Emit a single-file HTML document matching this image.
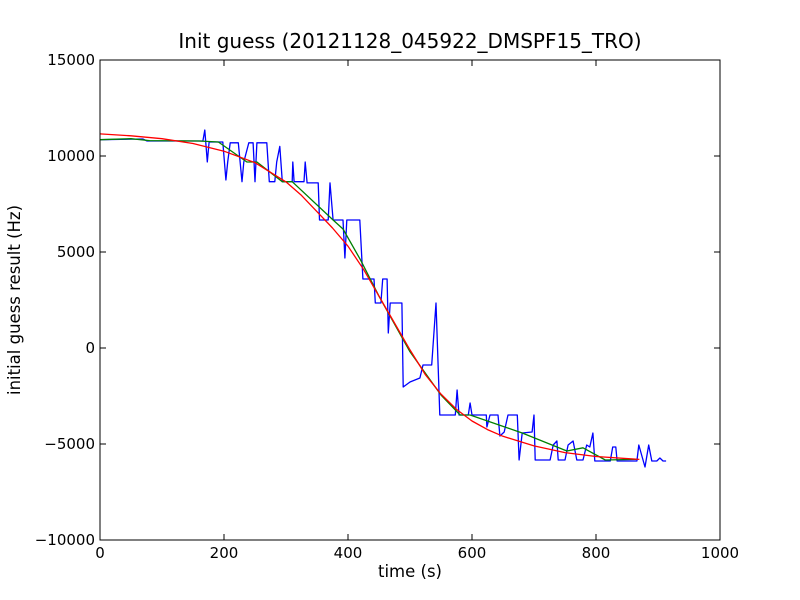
<!DOCTYPE html>
<html><head><meta charset="utf-8"><style>
html,body{margin:0;padding:0;background:#fff;}
svg{display:block;font-family:"DejaVu Sans","Liberation Sans",sans-serif;}
</style></head><body>
<svg id="chart" width="800" height="600">
<rect x="0" y="0" width="800" height="600" fill="#fff"/>
<text x="410" y="48" font-size="20" text-anchor="middle">Init guess (20121128_045922_DMSPF15_TRO)</text>
<text x="410" y="577" font-size="16.5" text-anchor="middle">time (s)</text>
<text x="20" y="300" font-size="16.5" text-anchor="middle" transform="rotate(-90 20 300)">initial guess result (Hz)</text>
<g id="grid"></g>
<g id="series"></g>
<rect x="100" y="60" width="620" height="480" fill="none" stroke="#000" stroke-width="1"/>
</svg>
<script>
const xTicks = [0, 200, 400, 600, 800, 1000];
const yTicks = [-10000, -5000, 0, 5000, 10000, 15000];
const blueT = [0,69,76,166,169,173,176,198,203,206,210,223,229,232,240,247,250,253,263,269,273,282,285,290,294,310,311,313,329,331,334,352,354,368,371,376,392,395,398,419,424,442,444,453,456,463,465,468,487,489,500,516,521,535,542,548,573,576,579,594,597,600,623,624,629,642,645,652,658,673,676,681,697,700,702,726,731,737,739,750,755,763,769,779,785,790,795,798,823,827,832,834,866,869,879,885,890,898,903,908,913];
const blueV = [10850,10885,10781,10781,11354,9690,10730,10730,8750,9690,10690,10690,8660,9690,10690,10690,8660,10690,10690,10690,8660,8660,9690,10500,8660,8660,9690,8660,8660,9690,8600,8600,6667,6667,8600,6667,6667,4688,6667,6667,3594,3594,2344,2344,3594,3594,781,2344,2344,-2031,-1771,-1563,-885,-885,2344,-3490,-3490,-2188,-3490,-3490,-2865,-3490,-3490,-4115,-3490,-3490,-4583,-4375,-3490,-3490,-5833,-4427,-4375,-3490,-5833,-5833,-5052,-4844,-5833,-5833,-5052,-4844,-5833,-5833,-5052,-5156,-4427,-5885,-5885,-5156,-5156,-5885,-5885,-5052,-6198,-5052,-5885,-5885,-5729,-5885,-5885];
const greenT = [0,50,80,160,191,237,253,294,310,376,392,420,450,500,550,581,597,681,753,779,815,865];
const greenV = [10850,10900,10800,10780,10730,9690,9690,8660,8660,6667,6200,4600,2700,-200,-2450,-3490,-3490,-4427,-5365,-5200,-5833,-5800];
const redT = [0,50,100,150,200,250,300,325,350,375,400,425,450,475,500,525,550,575,600,625,650,700,750,800,870];
const redV = [11150,11050,10900,10650,10250,9650,8650,7950,7100,6250,5300,4100,2700,1300,-100,-1400,-2400,-3200,-3800,-4250,-4600,-5100,-5450,-5650,-5800];

const X0=100,X1=720,Y0=540,Y1=60;
function xs(t){return X0+(t-0)/(1000-0)*(X1-X0);}
function ys(v){return Y0-(v+10000)/(25000)*(Y0-Y1);}
const NS='http://www.w3.org/2000/svg';
const g=document.getElementById('grid');
const s=document.getElementById('series');
function mk(tag,attrs,parent){const e=document.createElementNS(NS,tag);for(const k in attrs)e.setAttribute(k,attrs[k]);parent.appendChild(e);return e;}
xTicks.forEach(t=>{
  const x=xs(t);
  const a=mk('line',{x1:x,x2:x,y1:Y0,y2:Y0-6,stroke:'#000'},g);
  
  
  const b=mk('line',{x1:x,x2:x,y1:Y1,y2:Y1+6,stroke:'#000'},g);
  
  
  const l=mk('text',{x:x,y:Y0+18,'font-size':15,'text-anchor':'middle'},g);
  l.textContent=t;
  
  
});
yTicks.forEach(v=>{
  const y=ys(v);
  const a=mk('line',{x1:X0,x2:X0+6,y1:y,y2:y,stroke:'#000'},g);
  
  
  const b=mk('line',{x1:X1,x2:X1-6,y1:y,y2:y,stroke:'#000'},g);
  
  
  const l=mk('text',{x:X0-5,y:y+5,'font-size':15,'text-anchor':'end'},g);
  l.textContent=(v<0?'\u2212':'')+Math.abs(v);
  
  
});
function line(T,V,color,name){
  const d=T.map((t,i)=>(i?'L':'M')+xs(t).toFixed(1)+','+ys(V[i]).toFixed(1)).join('');
  const p=mk('path',{d:d,fill:'none',stroke:color,'stroke-width':1.3,'stroke-linejoin':'round'},s);
  
  
}
line(blueT,blueV,'#0000ff','raw-guess-line');
line(greenT,greenV,'#008000','smoothed-line');
line(redT,redV,'#ff0000','fit-line');
</script>
</body></html>
